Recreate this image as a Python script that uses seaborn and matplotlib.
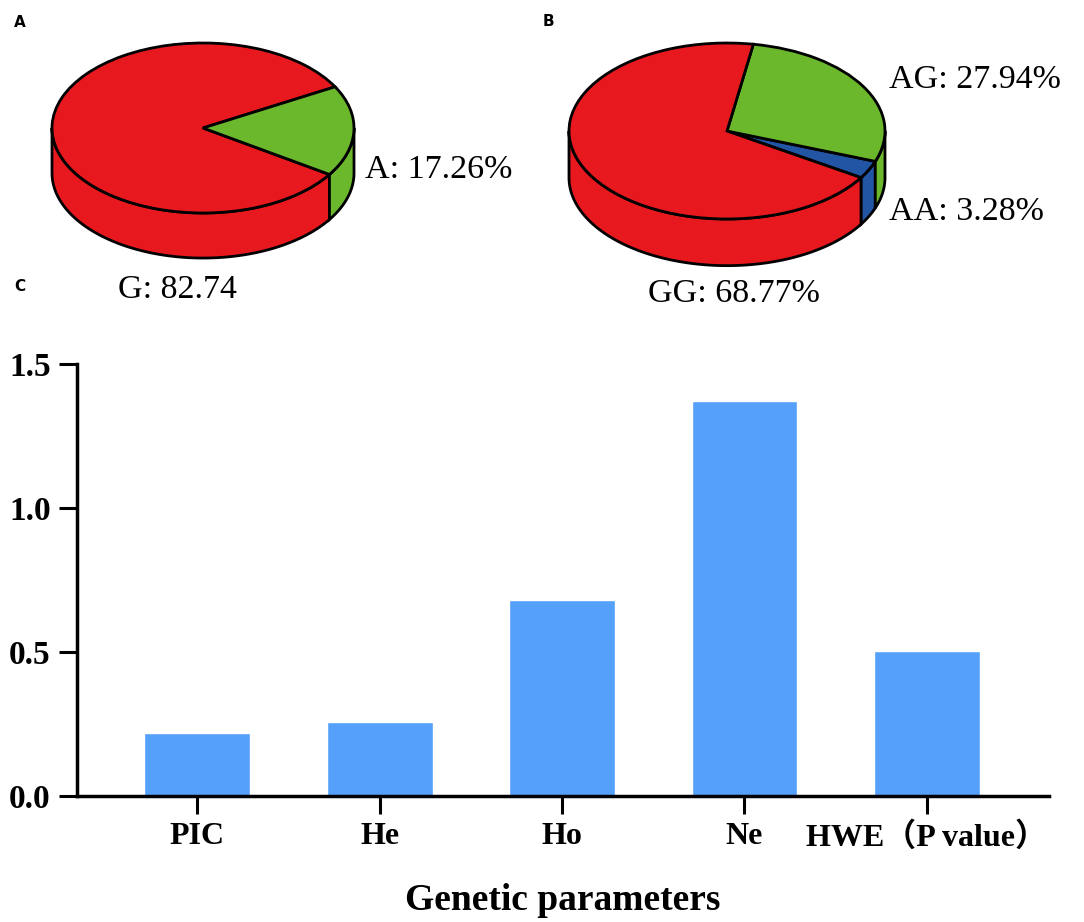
import numpy as np
import matplotlib
matplotlib.use('Agg')
import matplotlib.pyplot as plt
import seaborn as sns

# allele frequencies (panel A)
allele_labels = ['G', 'A']
allele_values = [82.74, 17.26]
allele_texts = ['G: 82.74', 'A: 17.26%']

# genotype frequencies (panel B)
geno_labels = ['AA', 'AG', 'GG']
geno_values = [3.28, 27.94, 68.77]
geno_texts = ['AA: 3.28%', 'AG: 27.94%', 'GG: 68.77%']

# genetic parameters (panel C)
params = ['PIC', 'He', 'Ho', 'Ne', 'HWE（P value）']
param_values = [0.219, 0.257, 0.682, 1.370, 0.503]

RED = '#E8191E'
GREEN = '#6CB82C'
BLUE = '#2355A5'
BAR = '#55A0FA'

W, H = 1084, 922
sns.set_style('ticks')
plt.rcParams['font.family'] = ['Liberation Serif', 'Noto Sans CJK SC']
for key in ['text.color', 'axes.labelcolor', 'xtick.color', 'ytick.color', 'axes.edgecolor']:
    plt.rcParams[key] = 'black'


def px_axes(fig, left, top, width, height):
    return fig.add_axes([left / W, 1 - (top + height) / H, width / W, height / H])


def pie3d(ax, values, colors, startangle, depth=0.53):
    total = float(sum(values))
    theta = startangle
    # side walls (only the front half, sin < 0, is visible)
    for v, c in zip(values, colors):
        t1, t2 = theta, theta + 360 * v / total
        theta = t2
        for k in range(-1, 2):
            lo = max(t1, 180 + 360 * k)
            hi = min(t2, 360 + 360 * k)
            if hi > lo:
                ang = np.radians(np.linspace(lo, hi, 120))
                xs = np.concatenate([np.cos(ang), np.cos(ang[::-1])])
                ys = np.concatenate([np.sin(ang), np.sin(ang[::-1]) - depth])
                ax.fill(xs, ys, facecolor=c, edgecolor='black', lw=2)
    ax.pie(values, colors=colors, startangle=startangle, counterclock=True,
           radius=1, wedgeprops=dict(edgecolor='black', linewidth=2))
    ax.set_aspect('auto')
    ax.set_xlim(-1.25, 1.25)
    ax.set_ylim(-1.8, 1.2)
    ax.axis('off')


fig = plt.figure(figsize=(W / 100, H / 100), dpi=100)

# panel A
axA = px_axes(fig, 203 - 1.25 * 151, 128 - 1.2 * 85, 2.5 * 151, 3.0 * 85)
pie3d(axA, allele_values, [RED, GREEN], startangle=29)

# panel B
axB = px_axes(fig, 727 - 1.25 * 158, 131 - 1.2 * 88, 2.5 * 158, 3.0 * 88)
pie3d(axB, geno_values, [BLUE, GREEN, RED], startangle=-32)

# pie labels
label_pos = {
    'A: 17.26%': (365, 178), 'G: 82.74': (118, 298),
    'AG: 27.94%': (889, 88), 'AA: 3.28%': (889, 220), 'GG: 68.77%': (648, 302),
}
for t in allele_texts + geno_texts:
    x, y = label_pos[t]
    fig.text(x / W, 1 - y / H, t, fontsize=24.5, ha='left', va='baseline',
             family=['Liberation Serif'])

# panel letters
for letter, (x, y) in {'A': (14, 27), 'B': (543, 26), 'C': (14, 291)}.items():
    fig.text(x / W, 1 - y / H, letter, fontsize=11, fontweight='bold',
             family=['DejaVu Sans'], va='baseline')

# panel C bar chart
axC = px_axes(fig, 77, 364, 1049 - 77, 796 - 364)
sns.barplot(x=params, y=param_values, color=BAR, saturation=1, width=0.58, ax=axC)
axC.set_xlim(-0.66, 4.67)
axC.set_ylim(0, 1.5)
axC.set_yticks([0, 0.5, 1.0, 1.5])
axC.set_yticklabels(['0.0', '0.5', '1.0', '1.5'])
sns.despine(ax=axC)
for s in ['left', 'bottom']:
    axC.spines[s].set_linewidth(2.5)
axC.tick_params(axis='both', length=13, width=2.2, pad=6)
axC.tick_params(axis='y', labelsize=24)
axC.tick_params(axis='x', labelsize=23)
for lab in axC.get_xticklabels() + axC.get_yticklabels():
    lab.set_fontweight('bold')
xl = axC.set_xlabel('Genetic parameters', fontsize=27, fontweight='bold')
xl.set_va('baseline')
axC.xaxis.set_label_coords(0.5, -(910 - 796) / (796 - 364))
axC.set_ylabel('')

fig.savefig('out.png', dpi=100)
